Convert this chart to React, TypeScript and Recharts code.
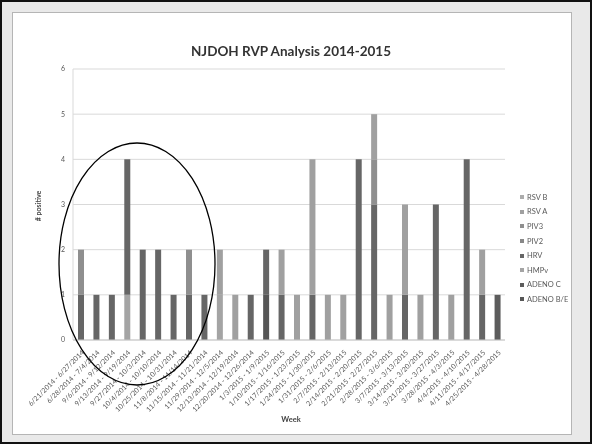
import { Bar, BarChart, CartesianGrid, XAxis, YAxis } from "recharts"

const weeks = [
  "6/21/2014 - 6/27/2014",
  "6/28/2014 - 7/4/2014",
  "9/6/2014 - 9/12/2014",
  "9/13/2014 - 9/19/2014",
  "9/27/2014 - 10/3/2014",
  "10/4/2014 - 10/10/2014",
  "10/25/2014 - 10/31/2014",
  "11/8/2014 - 11/14/2014",
  "11/15/2014 - 11/21/2014",
  "11/29/2014 - 12/5/2014",
  "12/13/2014 - 12/19/2014",
  "12/20/2014 - 12/26/2014",
  "1/3/2015 - 1/9/2015",
  "1/10/2015 - 1/16/2015",
  "1/17/2015 - 1/23/2015",
  "1/24/2015 - 1/30/2015",
  "1/31/2015 - 2/6/2015",
  "2/7/2015 - 2/13/2015",
  "2/14/2015 - 2/20/2015",
  "2/21/2015 - 2/27/2015",
  "2/28/2015 - 3/6/2015",
  "3/7/2015 - 3/13/2015",
  "3/14/2015 - 3/20/2015",
  "3/21/2015 - 3/27/2015",
  "3/28/2015 - 4/3/2015",
  "4/4/2015 - 4/10/2015",
  "4/11/2015 - 4/17/2015",
  "4/25/2015 - 4/28/2015",
]

// counts per week, one array per virus (bottom of stack first)
const adenoBE = [0, 0, 0, 0, 0, 0, 0, 0, 0, 0, 0, 0, 1, 0, 0, 0, 0, 0, 0, 0, 0, 0, 0, 0, 0, 0, 0, 0]
const adenoC = [0, 0, 0, 0, 0, 0, 0, 0, 0, 0, 0, 0, 0, 0, 0, 0, 0, 0, 0, 0, 0, 0, 0, 0, 0, 0, 0, 1]
const hmpv = [0, 0, 0, 1, 0, 0, 0, 0, 0, 1, 0, 0, 0, 0, 0, 0, 0, 0, 0, 0, 0, 0, 0, 0, 0, 0, 0, 0]
const hrv = [1, 1, 1, 3, 2, 2, 1, 1, 1, 0, 0, 1, 1, 1, 0, 1, 0, 0, 4, 3, 0, 1, 0, 3, 0, 4, 1, 0]
const piv2 = [0, 0, 0, 0, 0, 0, 0, 0, 0, 0, 0, 0, 0, 0, 0, 0, 0, 0, 0, 0, 0, 0, 0, 0, 0, 0, 0, 0]
const piv3 = [1, 0, 0, 0, 0, 0, 0, 1, 0, 0, 0, 0, 0, 0, 0, 0, 0, 0, 0, 1, 0, 0, 0, 0, 0, 0, 0, 0]
const rsvA = [0, 0, 0, 0, 0, 0, 0, 0, 0, 1, 1, 0, 0, 1, 1, 3, 1, 1, 0, 1, 1, 2, 1, 0, 1, 0, 1, 0]
const rsvB = [0, 0, 0, 0, 0, 0, 0, 0, 0, 0, 0, 0, 0, 0, 0, 0, 0, 0, 0, 0, 0, 0, 0, 0, 0, 0, 0, 0]

const yTicks = [0, 1, 2, 3, 4, 5, 6]

const series = [
  { key: "ADENO B/E", values: adenoBE, color: "#565656" },
  { key: "ADENO C", values: adenoC, color: "#5c5c5c" },
  { key: "HMPv", values: hmpv, color: "#a4a4a4" },
  { key: "HRV", values: hrv, color: "#666666" },
  { key: "PIV2", values: piv2, color: "#888888" },
  { key: "PIV3", values: piv3, color: "#8f8f8f" },
  { key: "RSV A", values: rsvA, color: "#a0a0a0" },
  { key: "RSV B", values: rsvB, color: "#acacac" },
]

const data = weeks.map((week, i) => {
  const row: Record<string, string | number> = { week }
  series.forEach((s) => {
    row[s.key] = s.values[i]
  })
  return row
})

const font = "Lato, 'Open Sans', sans-serif"

function WeekTick({ x, y, payload }: any) {
  return (
    <text
      x={x + 4}
      y={y + 5}
      transform={`rotate(-45, ${x + 4}, ${y + 5})`}
      textAnchor="end"
      fontSize={7}
      fill="#595959"
      fontFamily={font}
    >
      {payload.value}
    </text>
  )
}

// Excel-style legend: top entry is the top of the stack
function LegendList() {
  return (
    <div
      style={{
        position: "absolute",
        left: 518,
        top: 188,
        fontFamily: font,
        fontSize: 7.5,
        color: "#595959",
      }}
    >
      {[...series].reverse().map((s) => (
        <div key={s.key} style={{ display: "flex", alignItems: "center", height: 14.6 }}>
          <span style={{ width: 4, height: 4, background: s.color, marginRight: 3 }} />
          {s.key}
        </div>
      ))}
    </div>
  )
}

export default function App() {
  return (
    <div
      style={{
        position: "absolute",
        left: 0,
        top: 0,
        width: 592,
        height: 444,
        boxSizing: "border-box",
        border: "2px solid #111",
        background: "#e9e9e9",
        overflow: "hidden",
        filter: "grayscale(1)",
      }}
    >
      <div
        style={{
          position: "absolute",
          left: 10,
          top: 10,
          width: 558,
          height: 421,
          background: "#fff",
          border: "1px solid #b5b5b5",
        }}
      />
      <div
        style={{
          position: "absolute",
          left: 73,
          width: 432,
          top: 41,
          textAlign: "center",
          fontFamily: font,
          fontWeight: 700,
          fontSize: 13.5,
          color: "#333",
        }}
      >
        NJDOH RVP Analysis 2014-2015
      </div>
      <div
        style={{
          position: "absolute",
          left: 6,
          top: 200,
          width: 60,
          textAlign: "center",
          transform: "rotate(-90deg)",
          fontFamily: font,
          fontWeight: 700,
          fontSize: 7,
          color: "#444",
        }}
      >
        # positive
      </div>
      <div
        style={{
          position: "absolute",
          left: 73,
          width: 432,
          top: 413,
          textAlign: "center",
          fontFamily: font,
          fontWeight: 700,
          fontSize: 7.5,
          color: "#444",
        }}
      >
        Week
      </div>
      <div style={{ position: "absolute", left: -2, top: -2 }}>
        <BarChart
          width={592}
          height={444}
          data={data}
          margin={{ top: 69, right: 87, bottom: 24, left: 43 }}
          barSize={6}
        >
          <CartesianGrid vertical={false} stroke="#d9d9d9" />
          <XAxis
            dataKey="week"
            interval={0}
            height={80}
            tick={<WeekTick />}
            tickLine={false}
            axisLine={{ stroke: "#c8c8c8" }}
          />
          <YAxis
            width={30}
            domain={[0, 6]}
            ticks={yTicks}
            tick={{ fontSize: 7, fill: "#595959", fontFamily: font }}
            tickLine={false}
            axisLine={{ stroke: "#d9d9d9" }}
          />
          {series.map((s) => (
            <Bar key={s.key} dataKey={s.key} stackId="a" fill={s.color} isAnimationActive={false} />
          ))}
        </BarChart>
      </div>
      <LegendList />
      <svg
        width={592}
        height={444}
        style={{ position: "absolute", left: -2, top: -2, pointerEvents: "none" }}
      >
        <ellipse cx={137} cy={264} rx={78} ry={121} fill="none" stroke="#000" strokeWidth={1.3} />
      </svg>
    </div>
  )
}
